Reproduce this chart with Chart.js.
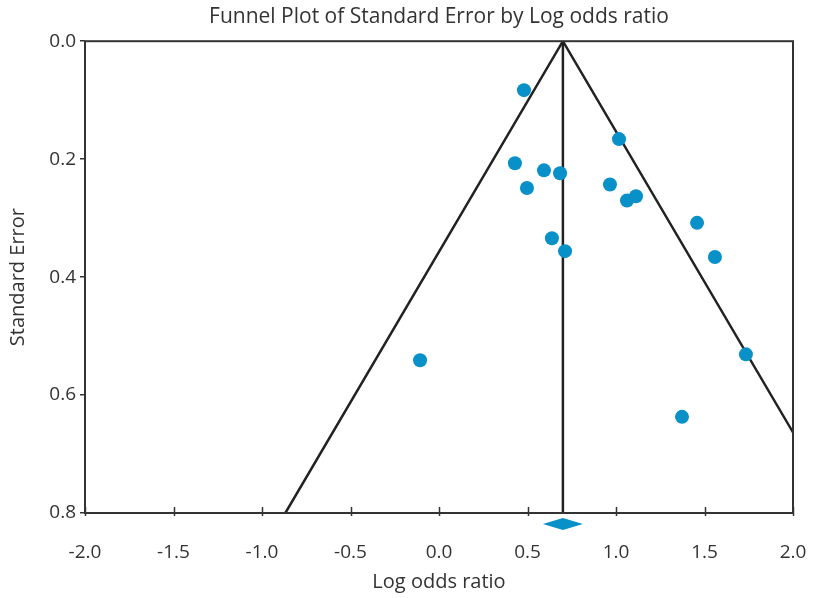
<!DOCTYPE html>
<html>
<head>
<meta charset="utf-8">
<script src="https://cdn.jsdelivr.net/npm/chart.js@4"></script>
<style>
  html, body { margin: 0; padding: 0; background: #fff; }
  #wrap { width: 813px; height: 598px; }
</style>
</head>
<body>
<div id="wrap"><canvas id="myChart" width="813" height="598"></canvas></div>
<script>
// study effects (log odds ratio) and standard errors
var logOdds = [0.48, 1.017, 0.429, 0.593, 0.684, 0.497, 0.966, 1.062, 1.113, 1.458, 1.559, 0.638, 0.712, -0.107, 1.734, 1.373];
var stdErr = [0.083, 0.166, 0.207, 0.219, 0.224, 0.249, 0.243, 0.270, 0.263, 0.308, 0.366, 0.334, 0.356, 0.541, 0.531, 0.637];
// pooled estimate and its confidence interval
var pooled = 0.70;
var pooledCI = [0.587, 0.813];
var seMax = 0.8;
var xTicks = [-2.0, -1.5, -1.0, -0.5, 0.0, 0.5, 1.0, 1.5, 2.0];
var yTicks = [0.0, 0.2, 0.4, 0.6, 0.8];

var blue = '#0890c8';
var dark = '#222222';
var fontFamily = '"Open Sans", "Noto Sans", sans-serif';

var points = logOdds.map(function (v, i) { return { x: v, y: stdErr[i] }; });
var funnel = [
    { x: pooled - 1.96 * seMax, y: seMax },
    { x: pooled, y: 0 },
    { x: pooled + 1.96 * seMax, y: seMax }
];
var centre = [{ x: pooled, y: 0 }, { x: pooled, y: seMax }];

var framePlugin = {
    id: 'frame',
    afterDatasetsDraw: function (chart) {
        var c = chart.ctx, a = chart.chartArea;
        var xs = chart.scales.x;
        c.save();
        c.strokeStyle = '#333';
        c.lineWidth = 2;
        c.strokeRect(a.left, a.top, a.right - a.left, a.bottom - a.top);
        // x ticks point into the plot
        c.lineWidth = 1.5;
        xTicks.forEach(function (t) {
            var px = Math.round(xs.getPixelForValue(t)) + 0.5;
            c.beginPath();
            c.moveTo(px, a.bottom - 6);
            c.lineTo(px, a.bottom + 3);
            c.stroke();
        });
        // pooled estimate diamond
        var l = xs.getPixelForValue(pooledCI[0]);
        var r = xs.getPixelForValue(pooledCI[1]);
        var m = xs.getPixelForValue(pooled);
        var cy = a.bottom + 11;
        c.fillStyle = blue;
        c.beginPath();
        c.moveTo(l, cy);
        c.lineTo(m, cy - 6);
        c.lineTo(r, cy);
        c.lineTo(m, cy + 6);
        c.closePath();
        c.fill();
        c.restore();
    }
};

document.addEventListener('DOMContentLoaded', function () {
    var ctx = document.getElementById('myChart').getContext('2d');
    new Chart(ctx, {
        type: 'scatter',
        data: {
            datasets: [{
                label: 'Funnel',
                data: funnel,
                showLine: true,
                borderColor: dark,
                borderWidth: 2.5,
                pointRadius: 0,
                order: 2
            }, {
                label: 'Pooled',
                data: centre,
                showLine: true,
                borderColor: dark,
                borderWidth: 2.5,
                pointRadius: 0,
                order: 2
            }, {
                label: 'Studies',
                data: points,
                backgroundColor: blue,
                borderWidth: 0,
                pointRadius: 7,
                order: 1
            }]
        },
        plugins: [framePlugin],
        options: {
            responsive: false,
            animation: false,
            layout: { padding: { left: 0, right: 20, top: 0, bottom: 0 } },
            plugins: {
                legend: { display: false },
                tooltip: { enabled: false },
                title: {
                    display: true,
                    fullSize: false,
                    text: 'Funnel Plot of Standard Error by Log odds ratio',
                    color: '#333',
                    font: { family: fontFamily, size: 21, weight: 'normal' },
                    padding: { top: 4, bottom: 12 }
                }
            },
            scales: {
                x: {
                    type: 'linear',
                    min: -2,
                    max: 2,
                    afterBuildTicks: function (s) { s.ticks = xTicks.map(function (v) { return { value: v }; }); },
                    grid: { display: false },
                    border: { display: false },
                    ticks: {
                        color: '#333',
                        padding: 20,
                        font: { family: fontFamily, size: 19 },
                        callback: function (v) { return v.toFixed(1); }
                    },
                    title: {
                        display: true,
                        text: 'Log odds ratio',
                        color: '#333',
                        font: { family: fontFamily, size: 20 },
                        padding: { top: 6, bottom: 4 }
                    },
                    afterFit: function (s) {
                        s.height = 85;
                        s.paddingLeft = 0;
                        s.paddingRight = 0;
                    }
                },
                y: {
                    type: 'linear',
                    reverse: true,
                    min: 0,
                    max: 0.8,
                    afterBuildTicks: function (s) { s.ticks = yTicks.map(function (v) { return { value: v }; }); },
                    grid: { drawOnChartArea: false, drawTicks: true, tickLength: 5, color: '#333', lineWidth: 1.5 },
                    border: { display: false },
                    ticks: {
                        color: '#333',
                        padding: 4,
                        font: { family: fontFamily, size: 19 },
                        callback: function (v) { return v.toFixed(1); }
                    },
                    title: {
                        display: true,
                        text: 'Standard Error',
                        color: '#333',
                        font: { family: fontFamily, size: 20 },
                        padding: { top: 6, bottom: 4 }
                    },
                    afterFit: function (s) { s.width = 85; }
                }
            }
        }
    });
});
</script>
</body>
</html>
